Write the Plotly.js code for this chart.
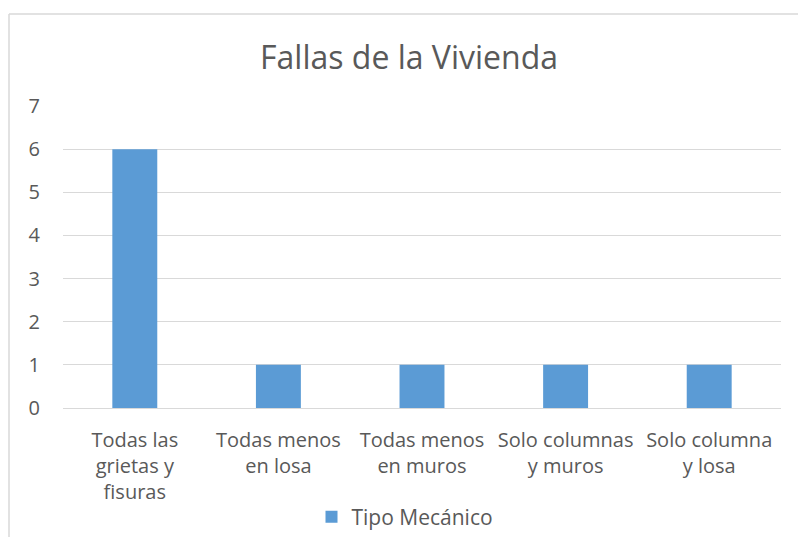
<!DOCTYPE html>
<html>
<head>
<meta charset="utf-8">
<script src="https://cdn.plot.ly/plotly-3.0.1.min.js"></script>
<style>html,body{margin:0;padding:0;background:#fff;}#chart{width:798px;height:537px;}</style>
</head>
<body>
<div id="chart"></div>
<script>
var categories = ["Todas las<br>grietas y<br>fisuras", "Todas menos<br>en losa", "Todas menos<br>en muros", "Solo columnas<br>y muros", "Solo columna<br>y losa"];
var seriesName = "Tipo Mecánico";
var values = [6, 1, 1, 1, 1];
var yTicks = [0, 1, 2, 3, 4, 5, 6, 7];

var FONT = "Open Sans, sans-serif";
var GRAY = "#595959";
var border = "#d9d9d9";

var W = 798, H = 537, ml = 63, mr = 17, mt = 106, mb = 129;
var pw = W - ml - mr, ph = H - mt - mb;
function px2x(p){ return (p - ml) / pw; }
function py2y(p){ return (H - mb - p) / ph; }

var trace = {
  type: "bar",
  x: categories,
  y: values,
  name: seriesName,
  marker: {color: "#5B9BD5"},
  showlegend: true,
  hoverinfo: "x+y"
};

var layout = {
  width: W, height: H,
  margin: {l: ml, r: mr, t: mt, b: mb, pad: 0, autoexpand: false},
  paper_bgcolor: "#fff", plot_bgcolor: "#fff",
  font: {family: FONT, color: GRAY, size: 20},
  title: {text: "Fallas de la Vivienda", font: {family: FONT, size: 32, color: GRAY}, x: 409 / W, xref: "container", xanchor: "center", y: 1 - 58 / H, yanchor: "middle", automargin: false},
  bargap: 0.687,
  showlegend: true,
  legend: {orientation: "h", x: px2x(405), xanchor: "center", y: py2y(517), yanchor: "middle", font: {family: FONT, size: 21, color: GRAY}, itemwidth: 30},
  xaxis: {
    type: "category", automargin: false,
    showgrid: false, zeroline: false, showline: false,
    ticks: "", tickfont: {family: FONT, size: 20, color: GRAY},
    ticklabelstandoff: 18
  },
  yaxis: {
    range: [0, 7], tickvals: yTicks, ticktext: yTicks.map(String), automargin: false,
    showgrid: true, gridcolor: border, gridwidth: 1,
    zeroline: true, zerolinecolor: border, zerolinewidth: 1,
    showline: false, ticks: "",
    tickfont: {family: FONT, size: 20, color: GRAY},
    ticklabelstandoff: 22
  },
  shapes: [
    {type: "line", xref: "paper", yref: "paper", x0: px2x(9), x1: px2x(9), y0: py2y(540), y1: py2y(14), line: {color: border, width: 1.5}},
    {type: "line", xref: "paper", yref: "paper", x0: px2x(9), x1: px2x(800), y0: py2y(14), y1: py2y(14), line: {color: border, width: 1.5}}
  ]
};

Plotly.newPlot("chart", [trace], layout, {displayModeBar: false, staticPlot: true});
</script>
</body>
</html>
